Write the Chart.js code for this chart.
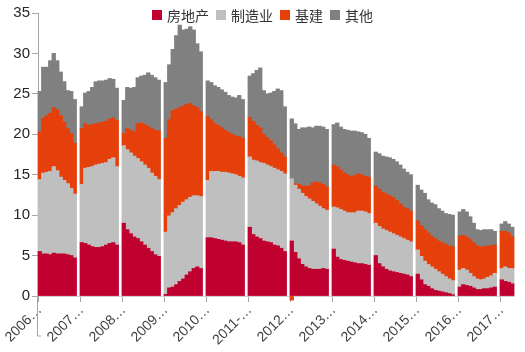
<!DOCTYPE html>
<html lang="zh">
<head>
<meta charset="utf-8">
<title>固定资产投资分行业贡献</title>
<script src="https://cdn.jsdelivr.net/npm/chart.js@4.4.1/dist/chart.umd.min.js"></script>
<style>
    body { margin: 0; background: #fff; }
    #wrap { position: relative; width: 525px; height: 352px; }
    #legend {
        position: absolute; top: 7px; left: 152px;
        display: flex; align-items: center;
        font-family: "Noto Sans CJK SC", sans-serif; font-size: 14px; color: #333;
        line-height: 16px;
    }
    #legend .item { display: flex; align-items: center; margin-right: 7px; }
    #legend .box { width: 10px; height: 10px; margin-right: 5px; }
</style>
</head>
<body>
<div id="wrap">
    <canvas id="fai-chart" width="525" height="352"></canvas>
    <div id="legend"></div>
</div>
<script>
// 年份（每年1月无数据，2006年从2月开始，2017年到5月）
const years = [2006, 2007, 2008, 2009, 2010, 2011, 2012, 2013, 2014, 2015, 2016, 2017];
const lastMonth2017 = 5;

// x轴年份刻度标签
const tickLabels = ['2006…', '2007…', '2008…', '2009…', '2010…', '2011-…',
    '2012…', '2013…', '2014…', '2015…', '2016…', '2017…'];

// 房地产
const realEstate = [
    5.5, 5.2, 5.2, 5.1, 5.3, 5.2, 5.2, 5.2, 5.1, 5.0, 4.7,
    null, 6.6, 6.5, 6.3, 6.1, 6.0, 6.0, 6.1, 6.3, 6.5, 6.6, 6.3,
    null, 9.0, 8.2, 7.7, 7.3, 7.1, 6.7, 6.3, 5.9, 5.5, 5.1, 4.9,
    null, 0.2, 1.0, 1.1, 1.4, 1.8, 2.1, 2.6, 3.0, 3.4, 3.6, 3.4,
    null, 7.2, 7.2, 7.1, 7.0, 6.9, 6.8, 6.7, 6.7, 6.7, 6.6, 6.3,
    null, 8.5, 7.6, 7.3, 7.1, 6.8, 6.7, 6.6, 6.3, 6.2, 5.9, 5.5,
    null, 6.8, 5.4, 4.6, 3.9, 3.6, 3.4, 3.3, 3.3, 3.3, 3.4, 3.3,
    null, 5.8, 4.8, 4.5, 4.4, 4.3, 4.2, 4.1, 4.0, 4.0, 3.9, 3.8,
    null, 5.0, 4.0, 3.6, 3.3, 3.1, 3.0, 2.9, 2.8, 2.7, 2.6, 2.4,
    null, 2.7, 2.0, 1.4, 1.2, 0.9, 0.7, 0.6, 0.5, 0.4, 0.3, 0.15,
    null, 1.1, 1.4, 1.3, 1.2, 1.0, 0.8, 0.8, 0.9, 0.9, 1.0, 1.1,
    null, 2.0, 1.8, 1.7, 1.5
];

// 制造业
const manufacturing = [
    8.9, 10.0, 10.1, 10.3, 10.7, 10.3, 9.5, 9.1, 8.8, 8.3, 7.9,
    null, 7.2, 9.3, 9.6, 9.9, 10.2, 10.3, 10.3, 10.2, 10.4, 10.5, 9.7,
    null, 9.6, 9.9, 10.0, 10.0, 9.9, 9.9, 9.9, 9.9, 9.7, 9.7, 9.5,
    null, 7.7, 8.9, 9.2, 9.4, 9.4, 9.5, 9.3, 9.2, 9.0, 8.8, 8.9,
    null, 7.1, 8.2, 8.3, 8.4, 8.4, 8.5, 8.5, 8.4, 8.3, 8.2, 8.3,
    null, 8.7, 9.2, 9.4, 9.4, 9.6, 9.5, 9.4, 9.5, 9.4, 9.5, 9.6,
    null, 7.7, 8.3, 8.6, 8.8, 8.7, 8.6, 8.4, 8.1, 7.8, 7.4, 7.3,
    null, 5.2, 6.1, 6.2, 6.1, 6.0, 6.1, 6.2, 6.5, 6.5, 6.5, 6.4,
    null, 4.0, 4.6, 4.7, 4.8, 4.8, 4.7, 4.6, 4.5, 4.4, 4.3, 4.3,
    null, 3.0, 2.9, 2.9, 2.7, 2.7, 2.6, 2.4, 2.2, 2.0, 1.8, 1.75,
    null, 2.1, 2.0, 1.9, 1.6, 1.4, 1.3, 1.2, 1.2, 1.4, 1.5, 1.7,
    null, 1.4, 1.8, 1.7, 1.9
];

// 基建
const infrastructure = [
    5.9, 6.8, 7.0, 7.2, 7.3, 7.5, 7.6, 7.2, 6.8, 6.8, 6.3,
    null, 6.9, 5.5, 5.2, 5.2, 5.1, 5.1, 5.1, 5.1, 5.0, 4.9, 5.7,
    null, 1.5, 2.6, 2.8, 3.0, 4.3, 4.8, 5.0, 5.2, 5.5, 5.7, 6.0,
    null, 11.6, 11.9, 12.6, 12.3, 12.1, 11.9, 11.8, 11.6, 11.1, 10.9, 10.5,
    null, 7.9, 6.4, 5.9, 5.7, 5.5, 5.2, 5.0, 4.9, 4.8, 4.9, 4.9,
    null, 4.9, 4.8, 4.4, 4.3, 3.6, 3.4, 3.2, 2.9, 2.6, 2.3, 2.1,
    null, -0.5, 0.2, 0.6, 0.9, 1.3, 1.6, 2.3, 2.7, 2.9, 3.0, 2.9,
    null, 5.2, 5.1, 4.9, 4.7, 4.7, 4.5, 4.6, 4.6, 4.5, 4.4, 4.5,
    null, 4.6, 4.6, 4.5, 4.5, 4.5, 4.5, 4.3, 4.1, 3.9, 3.9, 3.8,
    null, 3.6, 3.8, 3.9, 3.9, 3.8, 3.8, 3.8, 3.9, 4.0, 4.1, 4.2,
    null, 4.2, 4.1, 4.1, 4.2, 4.2, 4.1, 4.1, 4.0, 3.9, 3.7, 3.5,
    null, 4.6, 4.4, 4.4, 3.9
];

// 其他
const others = [
    5.0, 6.3, 6.0, 6.5, 6.7, 6.1, 5.4, 5.0, 4.7, 5.2, 5.4,
    null, 2.7, 3.8, 4.2, 4.6, 5.2, 5.2, 5.1, 5.1, 5.0, 4.8, 4.0,
    null, 4.1, 5.1, 5.2, 5.5, 5.7, 5.8, 6.1, 6.6, 6.6, 6.5, 6.3,
    null, 6.9, 6.8, 7.6, 9.1, 10.2, 9.4, 9.3, 9.5, 9.4, 7.9, 7.4,
    null, 4.4, 4.6, 4.7, 4.7, 4.7, 4.7, 4.6, 4.6, 4.7, 5.1, 4.8,
    null, 5.1, 5.9, 6.8, 7.4, 5.4, 5.4, 5.9, 6.6, 7.4, 7.7, 6.2,
    null, 7.4, 7.4, 6.8, 7.2, 7.2, 7.3, 6.8, 6.9, 7.0, 7.1, 7.1,
    null, 5.0, 5.4, 5.3, 5.4, 5.5, 5.6, 5.5, 5.2, 5.2, 5.2, 4.8,
    null, 4.2, 4.4, 4.5, 4.6, 4.7, 4.7, 4.8, 4.8, 4.7, 4.5, 4.5,
    null, 4.4, 4.4, 4.5, 4.1, 4.1, 4.2, 4.0, 3.9, 3.8, 3.9, 3.9,
    null, 3.0, 3.2, 3.1, 2.8, 2.4, 2.0, 2.0, 2.1, 2.0, 2.0, 1.7,
    null, 0.9, 1.2, 1.1, 1.2
];

const seriesNames = ['房地产', '制造业', '基建', '其他'];
const seriesColors = ['#c0002f', '#bfbfbf', '#e5400b', '#808080'];

document.addEventListener('DOMContentLoaded', initChart);

function initChart() {
    // 月份类别
    const labels = [];
    years.forEach((y, i) => {
        const end = y === 2017 ? lastMonth2017 : 12;
        for (let m = (i === 0 ? 2 : 1); m <= end; m++) {
            labels.push(y + '-' + String(m).padStart(2, '0'));
        }
    });

    // 图例
    const legend = document.getElementById('legend');
    seriesNames.forEach((name, i) => {
        const item = document.createElement('div');
        item.className = 'item';
        item.innerHTML = '<span class="box" style="background:' + seriesColors[i] + '"></span>' + name;
        legend.appendChild(item);
    });

    // y轴线向下延伸（原图中的残留线）
    const axisTail = {
        id: 'axisTail',
        afterDraw(chart) {
            const { ctx, chartArea } = chart;
            ctx.save();
            ctx.strokeStyle = '#a6a6a6';
            ctx.lineWidth = 1;
            ctx.beginPath();
            ctx.moveTo(chartArea.left - 0.5, chartArea.bottom);
            ctx.lineTo(chartArea.left - 0.5, chartArea.bottom + 40);
            ctx.lineTo(chartArea.left + 3, chartArea.bottom + 40);
            ctx.stroke();
            ctx.restore();
        }
    };

    const allData = [realEstate, manufacturing, infrastructure, others];
    const ctx = document.getElementById('fai-chart').getContext('2d');
    new Chart(ctx, {
        type: 'bar',
        data: {
            labels: labels,
            datasets: seriesNames.map((name, i) => ({
                label: name,
                data: allData[i],
                backgroundColor: seriesColors[i],
                borderWidth: 0,
                inflateAmount: 0.4,
                barPercentage: 1.0,
                categoryPercentage: 1.0,
                clip: false
            }))
        },
        options: {
            responsive: false,
            animation: false,
            layout: {
                padding: { top: 13, right: 11, bottom: 0, left: 0 }
            },
            scales: {
                x: {
                    stacked: true,
                    afterFit(scale) { scale.height = 56; },
                    border: { display: true, color: '#d0d0d0' },
                    grid: {
                        display: true,
                        drawOnChartArea: false,
                        offset: true,
                        tickLength: 6,
                        color: c => (c.index % 12 === 0 ? '#a6a6a6' : 'rgba(0,0,0,0)')
                    },
                    ticks: {
                        autoSkip: false,
                        minRotation: 45,
                        maxRotation: 45,
                        padding: 0,
                        color: '#404040',
                        font: { family: 'Liberation Sans', size: 14 },
                        callback: (value, index) => (index % 12 === 0 ? tickLabels[index / 12] : '')
                    }
                },
                y: {
                    stacked: true,
                    min: 0,
                    max: 35,
                    afterFit(scale) { scale.width = 38; },
                    border: { display: true, color: '#a6a6a6' },
                    grid: {
                        display: true,
                        drawOnChartArea: false,
                        tickLength: 6,
                        color: '#a6a6a6'
                    },
                    ticks: {
                        stepSize: 5,
                        padding: 2,
                        color: '#262626',
                        font: { family: 'Liberation Sans', size: 15 }
                    }
                }
            },
            plugins: {
                legend: { display: false },
                tooltip: { enabled: false }
            }
        },
        plugins: [axisTail]
    });
}
</script>
</body>
</html>
